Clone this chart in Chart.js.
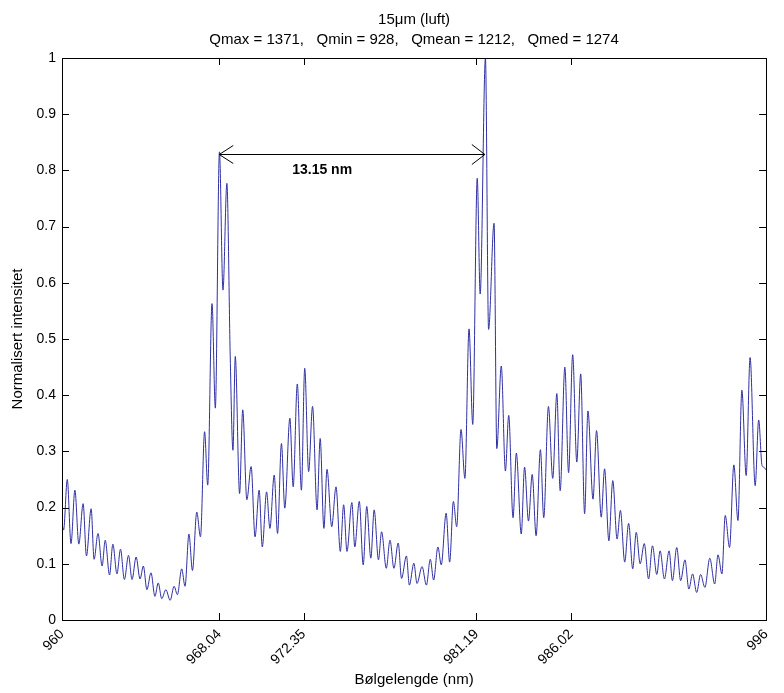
<!DOCTYPE html>
<html>
<head>
<meta charset="utf-8">
<script src="https://cdn.jsdelivr.net/npm/chart.js@4.4.1/dist/chart.umd.min.js"></script>
<style>
html,body{margin:0;padding:0;background:#fff;}
#wrap{width:784px;height:693px;}
</style>
</head>
<body>
<div id="wrap"><canvas id="c" width="784" height="693"></canvas></div>
<script>
// ---- data ----
const wavelengths = [
960.00,960.08,960.27,960.46,960.66,960.86,961.08,961.25,961.49,961.64,
961.84,962.05,962.21,962.43,962.60,962.81,962.99,963.19,963.40,963.58,
963.79,963.99,964.16,964.34,964.55,964.75,964.92,965.10,965.31,965.53,
965.73,965.90,966.12,966.29,966.49,966.67,966.89,967.08,967.29,967.45,
967.67,967.84,968.05,968.23,968.43,968.60,968.74,968.86,969.08,969.24,
969.45,969.67,969.87,970.08,970.24,970.46,970.63,970.85,971.02,971.22,
971.39,971.65,971.82,972.03,972.24,972.41,972.61,972.81,973.04,973.20,
973.39,973.55,973.79,974.01,974.23,974.40,974.57,974.82,974.97,975.20,
975.40,975.58,975.79,975.96,976.18,976.34,976.58,976.77,976.97,977.19,
977.36,977.61,977.76,977.99,978.15,978.41,978.63,978.83,979.00,979.22,
979.39,979.64,979.82,980.01,980.18,980.40,980.60,980.81,981.00,981.23,
981.38,981.65,981.81,982.09,982.23,982.46,982.67,982.84,983.06,983.23,
983.48,983.65,983.85,984.04,984.24,984.46,984.63,984.87,985.09,985.30,
985.47,985.71,985.90,986.11,986.32,986.52,986.72,986.89,987.15,987.33,
987.57,987.74,987.96,988.16,988.38,988.55,988.77,988.97,989.18,989.36,
989.56,989.77,989.99,990.19,990.41,990.58,990.80,991.04,991.21,991.43,
991.63,991.85,992.05,992.24,992.45,992.65,992.87,993.12,993.37,993.54,
993.74,993.91,994.13,994.35,994.56,994.76,994.98,995.18,995.44,995.62,
995.79,995.88,996.00
];
const intensities = [
0.170,0.160,0.250,0.136,0.231,0.135,0.207,0.114,0.198,0.108,
0.154,0.096,0.142,0.080,0.135,0.082,0.126,0.072,0.115,0.072,
0.112,0.073,0.096,0.054,0.084,0.042,0.066,0.038,0.054,0.035,
0.060,0.045,0.091,0.060,0.153,0.088,0.192,0.148,0.335,0.240,
0.563,0.377,0.833,0.587,0.777,0.470,0.302,0.469,0.225,0.374,
0.214,0.273,0.148,0.231,0.130,0.228,0.163,0.258,0.154,0.314,
0.199,0.359,0.237,0.420,0.231,0.448,0.264,0.380,0.196,0.323,
0.163,0.268,0.166,0.237,0.122,0.205,0.122,0.209,0.130,0.211,
0.098,0.202,0.110,0.196,0.107,0.157,0.092,0.142,0.092,0.137,
0.074,0.114,0.062,0.101,0.065,0.095,0.062,0.108,0.071,0.130,
0.098,0.190,0.103,0.211,0.166,0.339,0.252,0.518,0.348,0.786,
0.580,1.000,0.517,0.706,0.305,0.452,0.265,0.364,0.182,0.297,
0.153,0.272,0.176,0.259,0.150,0.303,0.182,0.380,0.252,0.403,
0.230,0.450,0.262,0.472,0.281,0.438,0.189,0.372,0.215,0.337,
0.183,0.269,0.141,0.248,0.144,0.195,0.103,0.172,0.091,0.156,
0.100,0.136,0.073,0.132,0.081,0.123,0.073,0.123,0.070,0.129,
0.070,0.107,0.055,0.082,0.049,0.081,0.058,0.110,0.064,0.116,
0.082,0.186,0.129,0.276,0.177,0.409,0.257,0.467,0.239,0.356,
0.275,0.272,0.267
];
const xTickValues = [960, 968.04, 972.35, 981.19, 986.02, 996];
const xTickLabels = ['960', '968.04', '972.35', '981.19', '986.02', '996'];
const yTickValues = [0, 0.1, 0.2, 0.3, 0.4, 0.5, 0.6, 0.7, 0.8, 0.9, 1];
const yTickLabels = ['0', '0.1', '0.2', '0.3', '0.4', '0.5', '0.6', '0.7', '0.8', '0.9', '1'];
const titleLines = ['15\u03bcm (luft)', 'Qmax = 1371,   Qmin = 928,   Qmean = 1212,   Qmed = 1274'];
const xTitle = 'B\u00f8lgelengde (nm)';
const yTitle = 'Normalisert intensitet';
const arrowFrom = 968.04, arrowTo = 981.62, arrowLevel = 0.83;
const arrowText = '13.15 nm';
const arrowTextPos = [973.3, 0.80];

const FONT = '"Liberation Sans", Arial, Helvetica, sans-serif';

const points = wavelengths.map((w, i) => ({x: w, y: intensities[i]}));

const decor = {
  id: 'decor',
  afterDraw(chart) {
    const {ctx, chartArea: a, scales: {x, y}} = chart;
    ctx.save();
    ctx.strokeStyle = '#000';
    ctx.lineWidth = 1;
    ctx.strokeRect(Math.round(a.left) + 0.5, Math.round(a.top) + 0.5,
                   Math.round(a.right - a.left), Math.round(a.bottom - a.top));
    const tl = 7;
    ctx.beginPath();
    xTickValues.forEach(v => {
      const px = Math.round(x.getPixelForValue(v)) + 0.5;
      ctx.moveTo(px, a.bottom); ctx.lineTo(px, a.bottom - tl);
      ctx.moveTo(px, a.top); ctx.lineTo(px, a.top + tl);
    });
    yTickValues.forEach(v => {
      const py = Math.round(y.getPixelForValue(v)) + 0.5;
      ctx.moveTo(a.left, py); ctx.lineTo(a.left + tl, py);
      ctx.moveTo(a.right, py); ctx.lineTo(a.right - tl, py);
    });
    ctx.stroke();

    // double arrow
    const x1 = x.getPixelForValue(arrowFrom), x2 = x.getPixelForValue(arrowTo);
    const ay = Math.round(y.getPixelForValue(arrowLevel)) + 0.5;
    ctx.beginPath();
    ctx.moveTo(x1, ay); ctx.lineTo(x2, ay);
    ctx.moveTo(x1 + 14, ay - 9); ctx.lineTo(x1, ay); ctx.lineTo(x1 + 14, ay + 9);
    ctx.moveTo(x2 - 13, ay - 10); ctx.lineTo(x2, ay); ctx.lineTo(x2 - 13, ay + 10);
    ctx.stroke();
    ctx.fillStyle = '#000';
    ctx.font = 'bold 14px ' + FONT;
    ctx.textAlign = 'center';
    ctx.textBaseline = 'middle';
    ctx.fillText(arrowText, x.getPixelForValue(arrowTextPos[0]), y.getPixelForValue(arrowTextPos[1]));

    // title
    ctx.font = '15px ' + FONT;
    const cx = (a.left + a.right) / 2;
    ctx.fillText(titleLines[0], cx, 20);
    ctx.fillText(titleLines[1], cx, 40);
    ctx.restore();
  }
};

new Chart(document.getElementById('c'), {
  type: 'line',
  data: {
    datasets: [{
      data: points,
      borderColor: '#2f2fa3',
      borderWidth: 1,
      pointRadius: 0,
      fill: false,
      cubicInterpolationMode: 'monotone'
    }]
  },
  options: {
    responsive: false,
    animation: false,
    devicePixelRatio: 1,
    layout: {padding: {top: 58, right: 12, left: 0, bottom: 0}},
    plugins: {legend: {display: false}, tooltip: {enabled: false}, title: {display: false}},
    scales: {
      x: {
        type: 'linear',
        min: 960, max: 996,
        grid: {display: false, drawTicks: false},
        border: {display: false},
        afterBuildTicks: (s) => { s.ticks = xTickValues.map(v => ({value: v})); },
        afterFit: (s) => { s.height = 73; },
        ticks: {
          autoSkip: false, maxRotation: 45, minRotation: 45, padding: 6,
          color: '#000', font: {family: FONT, size: 14},
          callback: (v) => { const i = xTickValues.indexOf(v); return i >= 0 ? xTickLabels[i] : ''; }
        },
        title: {display: true, text: xTitle, color: '#000', font: {family: FONT, size: 15}, padding: {top: 0, bottom: 4}}
      },
      y: {
        type: 'linear',
        min: 0, max: 1,
        grid: {display: false, drawTicks: false},
        border: {display: false},
        afterBuildTicks: (s) => { s.ticks = yTickValues.map(v => ({value: v})); },
        afterFit: (s) => { s.width = 62; },
        ticks: {
          padding: 6, color: '#000', font: {family: FONT, size: 14},
          callback: (v) => { const i = yTickValues.indexOf(v); return i >= 0 ? yTickLabels[i] : ''; }
        },
        title: {display: true, text: yTitle, color: '#000', font: {family: FONT, size: 15}, padding: {top: 9, bottom: 0}}
      }
    }
  },
  plugins: [decor]
});
</script>
</body>
</html>
